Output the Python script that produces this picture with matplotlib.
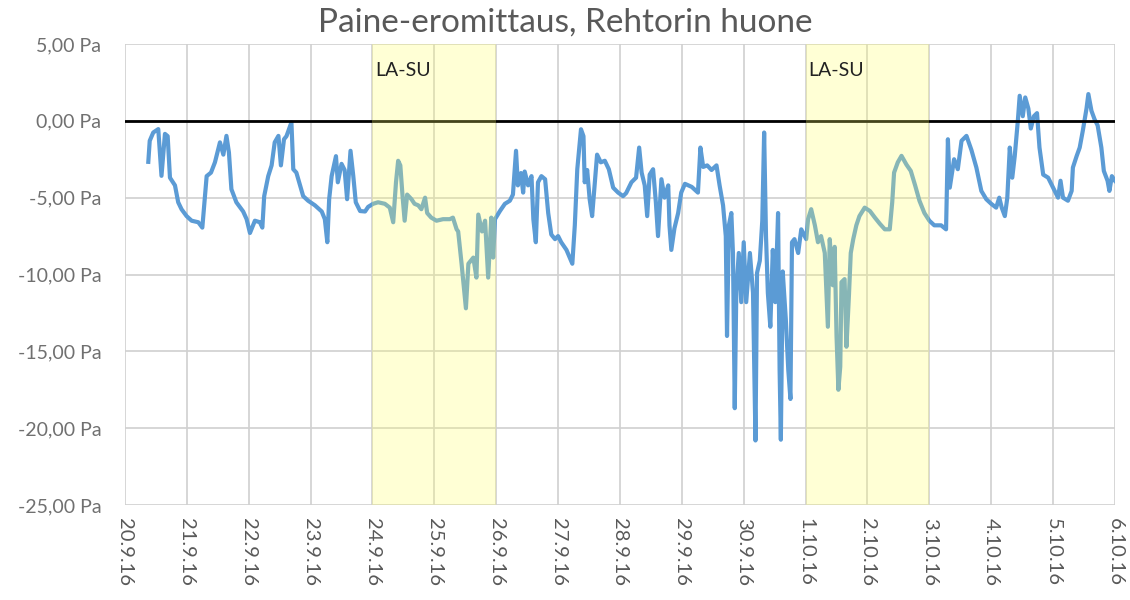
import matplotlib.pyplot as plt

# time in days after 20.9.2016 00:00, pressure difference in Pa
days = [0.377, 0.40, 0.457, 0.538, 0.56, 0.59, 0.646, 0.69, 0.727, 0.808,
        0.86, 0.915, 0.996, 1.077, 1.185, 1.25, 1.28, 1.32, 1.39, 1.454,
        1.535, 1.59, 1.64, 1.68, 1.72, 1.80, 1.91, 1.966, 2.02, 2.10,
        2.18, 2.22, 2.25, 2.315, 2.37, 2.42, 2.48, 2.52, 2.57, 2.61,
        2.69, 2.72, 2.77, 2.83, 2.88, 2.96, 3.07, 3.18, 3.23, 3.27,
        3.30, 3.34, 3.41, 3.44, 3.50, 3.55, 3.59, 3.645, 3.69, 3.73,
        3.80, 3.88, 3.93, 4.01, 4.09, 4.20, 4.28, 4.335, 4.38, 4.415,
        4.45, 4.486, 4.52, 4.56, 4.63, 4.68, 4.74, 4.79, 4.85, 4.884,
        4.95, 5.035, 5.14, 5.25, 5.30, 5.36, 5.385, 5.44, 5.51, 5.55,
        5.63, 5.68, 5.71, 5.77, 5.82, 5.87, 5.92, 5.95, 5.98, 6.06,
        6.14, 6.22, 6.27, 6.32, 6.35, 6.40, 6.435, 6.46, 6.515, 6.57,
        6.60, 6.64, 6.675, 6.73, 6.79, 6.84, 6.89, 6.95, 7.00, 7.05,
        7.135, 7.23, 7.27, 7.31, 7.37, 7.41, 7.43, 7.47, 7.51, 7.55,
        7.59, 7.63, 7.69, 7.755, 7.82, 7.89, 7.97, 8.05, 8.1, 8.185,
        8.26, 8.31, 8.35, 8.40, 8.44, 8.48, 8.535, 8.58, 8.615, 8.67,
        8.72, 8.78, 8.80, 8.83, 8.88, 8.94, 8.99, 9.05, 9.16, 9.26,
        9.30, 9.345, 9.41, 9.48, 9.56, 9.61, 9.666, 9.71, 9.73, 9.76,
        9.80, 9.826, 9.855, 9.88, 9.92, 9.96, 10.0, 10.04, 10.10, 10.15,
        10.19, 10.215, 10.26, 10.30, 10.33, 10.36, 10.39, 10.43, 10.47, 10.51,
        10.555, 10.58, 10.60, 10.63, 10.68, 10.72, 10.755, 10.78, 10.82, 10.88,
        10.93, 11.01, 11.04, 11.09, 11.15, 11.20, 11.25, 11.31, 11.36, 11.39,
        11.44, 11.47, 11.50, 11.53, 11.56, 11.58, 11.63, 11.66, 11.70, 11.73,
        11.77, 11.82, 11.87, 11.955, 12.04, 12.12, 12.2, 12.28, 12.36, 12.40,
        12.43, 12.49, 12.55, 12.63, 12.70, 12.77, 12.84, 12.92, 13.0, 13.08,
        13.19, 13.27, 13.30, 13.33, 13.40, 13.46, 13.52, 13.60, 13.68, 13.76,
        13.84, 13.92, 14.0, 14.08, 14.13, 14.17, 14.22, 14.26, 14.30, 14.34,
        14.38, 14.43, 14.46, 14.51, 14.55, 14.60, 14.64, 14.69, 14.74, 14.78,
        14.84, 14.92, 15.0, 15.08, 15.12, 15.16, 15.24, 15.30, 15.32, 15.38,
        15.43, 15.48, 15.54, 15.57, 15.62, 15.67, 15.72, 15.78, 15.82, 15.88,
        15.91, 15.95, 16.0]
pressure = [-2.67, -1.3, -0.76, -0.54, -1.85, -3.58, -0.85, -1.0, -3.7, -4.2,
            -5.3, -5.76, -6.2, -6.5, -6.6, -6.95, -5.5, -3.6, -3.37, -2.7,
            -1.4, -2.2, -0.98, -2.06, -4.45, -5.3, -5.9, -6.4, -7.3, -6.5,
            -6.6, -6.95, -4.9, -3.6, -2.9, -1.4, -0.98, -2.9, -1.2, -1.0,
            -0.1, -3.15, -3.37, -4.2, -4.9, -5.2, -5.5, -5.9, -6.4, -7.9,
            -5.1, -3.6, -2.3, -4.0, -2.8, -3.2, -5.1, -1.95, -3.6, -5.3,
            -5.87, -5.9, -5.6, -5.4, -5.3, -5.4, -5.65, -6.6, -4.0, -2.6,
            -2.9, -4.9, -6.5, -4.8, -5.1, -5.4, -5.5, -5.75, -5.0, -6.0,
            -6.3, -6.5, -6.4, -6.4, -6.3, -7.06, -7.2, -9.3, -12.2, -9.3,
            -8.9, -10.2, -6.1, -7.2, -6.5, -10.2, -6.3, -8.9, -6.4, -5.87,
            -5.4, -5.2, -4.8, -1.95, -4.2, -3.4, -4.67, -3.3, -4.2, -3.6,
            -6.4, -7.9, -4.0, -3.6, -3.8, -6.0, -7.4, -7.7, -7.5, -7.9,
            -8.4, -9.3, -6.8, -3.15, -0.55, -1.0, -4.0, -3.2, -5.1, -6.2,
            -4.2, -2.2, -2.7, -2.6, -3.15, -4.35, -4.67, -4.9, -4.7, -4.0,
            -3.7, -1.74, -3.37, -4.2, -6.2, -3.5, -3.15, -5.3, -7.5, -3.8,
            -5.0, -4.2, -6.8, -8.4, -7.0, -6.0, -4.67, -4.1, -4.3, -4.67,
            -1.74, -3.0, -2.9, -3.2, -2.9, -4.2, -5.5, -7.5, -14.0, -6.8,
            -6.0, -8.6, -18.7, -11.1, -8.6, -11.8, -7.9, -11.8, -8.6, -11.2,
            -20.8, -9.9, -9.1, -6.5, -0.76, -7.5, -11.2, -13.4, -8.4, -11.8,
            -6.0, -16.2, -20.75, -9.8, -12.9, -16.2, -18.1, -7.9, -7.7, -8.6,
            -7.06, -7.7, -6.4, -5.75, -6.8, -7.9, -7.5, -8.6, -13.4, -7.7,
            -10.7, -8.2, -14.0, -17.5, -16.0, -10.5, -10.3, -14.7, -11.4, -8.6,
            -7.7, -6.8, -6.2, -5.65, -5.87, -6.3, -6.7, -7.06, -7.06, -5.3,
            -3.37, -2.7, -2.28, -2.85, -3.26, -4.2, -5.2, -6.0, -6.5, -6.8,
            -6.8, -7.06, -1.2, -4.35, -2.5, -3.15, -1.3, -0.98, -1.9, -3.04,
            -4.56, -5.1, -5.4, -5.65, -5.0, -5.65, -6.2, -5.0, -1.74, -3.7,
            -2.3, 0.0, 1.63, 0.3, 1.52, 0.8, -0.5, 0.3, 0.5, -1.74,
            -3.5, -3.7, -4.35, -5.0, -3.9, -5.0, -5.2, -4.56, -3.04, -2.3,
            -1.74, -0.65, 0.8, 1.74, 0.65, 0.1, -0.3, -1.74, -3.26, -3.9,
            -4.56, -3.6, -3.9]

date_labels = ["20.9.16", "21.9.16", "22.9.16", "23.9.16", "24.9.16", "25.9.16",
               "26.9.16", "27.9.16", "28.9.16", "29.9.16", "30.9.16", "1.10.16",
               "2.10.16", "3.10.16", "4.10.16", "5.10.16", "6.10.16"]
y_ticks = [5, 0, -5, -10, -15, -20, -25]
weekends = [(4, 6), (11, 13)]  # LA-SU periods

fig = plt.figure(figsize=(11.3, 6), dpi=100)
ax = fig.add_axes([0.1106, 0.1583, 0.8761, 0.7684])

ax.plot(days, pressure, color="#5B9BD5", lw=3.0, zorder=3)
ax.axhline(0, color="black", lw=2.0, zorder=4)

for start, end in weekends:
    ax.axvspan(start, end, color="#FFFF66", alpha=0.27, lw=0, zorder=5)
    ax.text(start + 0.04, 3.3, "LA-SU", fontsize=14, family="Lato",
            va="center", ha="left", color="#222222", zorder=6)

ax.set_xlim(0, 16)
ax.set_ylim(-25, 5)
ax.set_xticks(range(len(date_labels)))
ax.set_xticklabels(date_labels, rotation=-90, fontsize=14.5, family="Lato",
                   color="#595959")
ax.set_yticks(y_ticks)
ax.set_yticklabels([f"{v:.2f}".replace(".", ",") + " Pa" for v in y_ticks],
                   fontsize=14, family="Lato", color="#707070")
ax.tick_params(axis="y", length=0, pad=17)
ax.tick_params(axis="x", length=0, pad=9)
ax.grid(True, color="#D0D0D0", lw=1.2, zorder=1)
ax.set_axisbelow(True)
for s in ax.spines.values():
    s.set_visible(False)

fig.text(0.5, 0.962, "Paine-eromittaus, Rehtorin huone", ha="center",
         va="center", fontsize=24, family="Lato", color="#595959")

fig.savefig("out.png", dpi=100)
